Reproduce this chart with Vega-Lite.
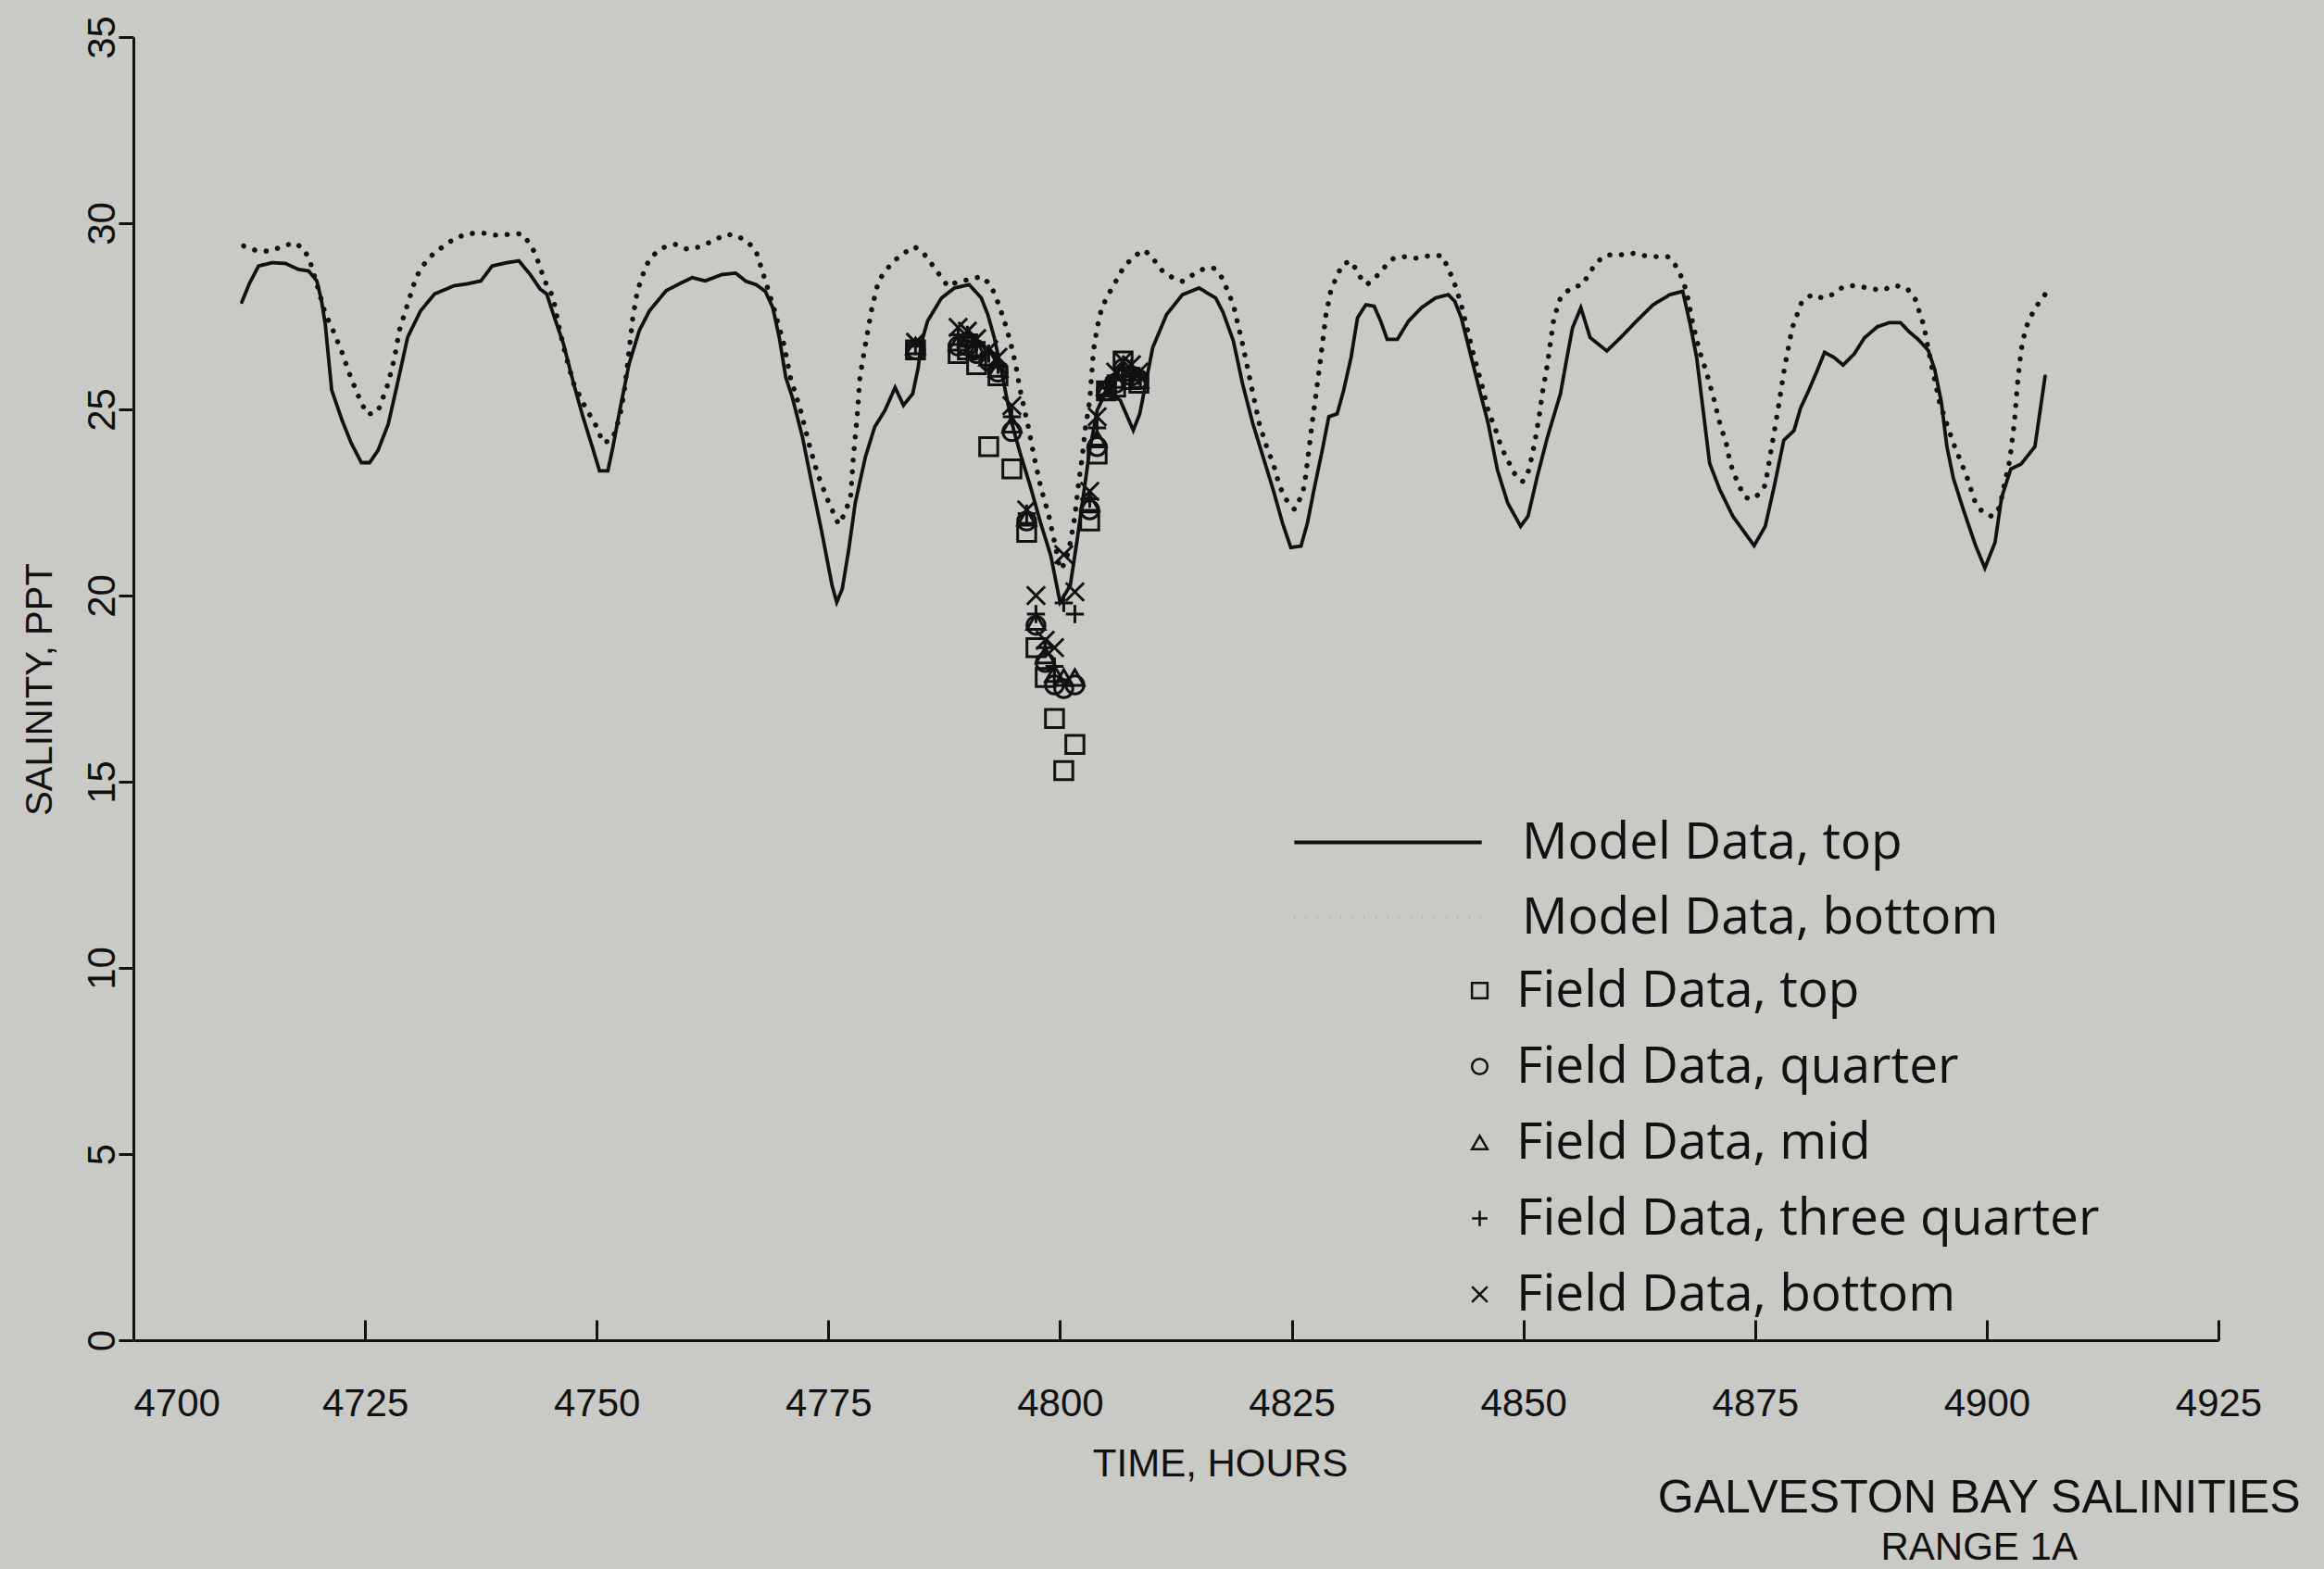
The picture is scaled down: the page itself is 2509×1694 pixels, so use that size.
{
  "$schema": "https://vega.github.io/schema/vega-lite/v6.json",
  "width": 2251,
  "height": 1407,
  "autosize": "none",
  "padding": {"left": 144, "top": 40, "right": 114, "bottom": 247},
  "background": "#c9c9c6",
  "config": {"view": {"stroke": null}, "font": "Liberation Sans"},
  "title": {
    "text": "GALVESTON BAY SALINITIES",
    "subtitle": "RANGE 1A",
    "orient": "bottom",
    "anchor": "end",
    "align": "center",
    "dx": -305,
    "offset": -8,
    "font": "Liberation Sans",
    "fontSize": 50,
    "fontWeight": "normal",
    "color": "#111111",
    "subtitleFont": "Liberation Sans",
    "subtitleFontSize": 42,
    "subtitleColor": "#111111",
    "subtitlePadding": 8
  },
  "datasets": {
    "model": [
      {"hour": 4711.7, "salinity": 27.88, "series": "Model Data, top"},
      {"hour": 4712.5, "salinity": 28.37, "series": "Model Data, top"},
      {"hour": 4713.5, "salinity": 28.85, "series": "Model Data, top"},
      {"hour": 4715.0, "salinity": 28.94, "series": "Model Data, top"},
      {"hour": 4716.4, "salinity": 28.92, "series": "Model Data, top"},
      {"hour": 4717.8, "salinity": 28.76, "series": "Model Data, top"},
      {"hour": 4718.9, "salinity": 28.72, "series": "Model Data, top"},
      {"hour": 4719.8, "salinity": 28.45, "series": "Model Data, top"},
      {"hour": 4720.3, "salinity": 27.92, "series": "Model Data, top"},
      {"hour": 4720.7, "salinity": 27.3, "series": "Model Data, top"},
      {"hour": 4721.4, "salinity": 25.52, "series": "Model Data, top"},
      {"hour": 4722.5, "salinity": 24.72, "series": "Model Data, top"},
      {"hour": 4723.5, "salinity": 24.1, "series": "Model Data, top"},
      {"hour": 4724.6, "salinity": 23.57, "series": "Model Data, top"},
      {"hour": 4725.5, "salinity": 23.57, "series": "Model Data, top"},
      {"hour": 4726.4, "salinity": 23.9, "series": "Model Data, top"},
      {"hour": 4727.5, "salinity": 24.6, "series": "Model Data, top"},
      {"hour": 4728.5, "salinity": 25.7, "series": "Model Data, top"},
      {"hour": 4729.6, "salinity": 26.94, "series": "Model Data, top"},
      {"hour": 4731.0, "salinity": 27.65, "series": "Model Data, top"},
      {"hour": 4732.5, "salinity": 28.1, "series": "Model Data, top"},
      {"hour": 4734.6, "salinity": 28.32, "series": "Model Data, top"},
      {"hour": 4736.0, "salinity": 28.37, "series": "Model Data, top"},
      {"hour": 4737.5, "salinity": 28.45, "series": "Model Data, top"},
      {"hour": 4738.2, "salinity": 28.68, "series": "Model Data, top"},
      {"hour": 4738.7, "salinity": 28.85, "series": "Model Data, top"},
      {"hour": 4740.3, "salinity": 28.94, "series": "Model Data, top"},
      {"hour": 4741.6, "salinity": 28.99, "series": "Model Data, top"},
      {"hour": 4742.8, "salinity": 28.63, "series": "Model Data, top"},
      {"hour": 4743.9, "salinity": 28.23, "series": "Model Data, top"},
      {"hour": 4744.6, "salinity": 28.1, "series": "Model Data, top"},
      {"hour": 4745.3, "salinity": 27.57, "series": "Model Data, top"},
      {"hour": 4746.4, "salinity": 26.77, "series": "Model Data, top"},
      {"hour": 4747.5, "salinity": 25.7, "series": "Model Data, top"},
      {"hour": 4748.5, "salinity": 24.81, "series": "Model Data, top"},
      {"hour": 4749.6, "salinity": 23.93, "series": "Model Data, top"},
      {"hour": 4750.3, "salinity": 23.35, "series": "Model Data, top"},
      {"hour": 4751.2, "salinity": 23.35, "series": "Model Data, top"},
      {"hour": 4751.7, "salinity": 23.93, "series": "Model Data, top"},
      {"hour": 4752.5, "salinity": 24.99, "series": "Model Data, top"},
      {"hour": 4753.5, "salinity": 26.23, "series": "Model Data, top"},
      {"hour": 4754.6, "salinity": 27.12, "series": "Model Data, top"},
      {"hour": 4755.7, "salinity": 27.65, "series": "Model Data, top"},
      {"hour": 4757.5, "salinity": 28.19, "series": "Model Data, top"},
      {"hour": 4758.9, "salinity": 28.37, "series": "Model Data, top"},
      {"hour": 4760.3, "salinity": 28.54, "series": "Model Data, top"},
      {"hour": 4761.7, "salinity": 28.45, "series": "Model Data, top"},
      {"hour": 4763.5, "salinity": 28.62, "series": "Model Data, top"},
      {"hour": 4765.0, "salinity": 28.66, "series": "Model Data, top"},
      {"hour": 4766.1, "salinity": 28.44, "series": "Model Data, top"},
      {"hour": 4767.2, "salinity": 28.35, "series": "Model Data, top"},
      {"hour": 4768.2, "salinity": 28.17, "series": "Model Data, top"},
      {"hour": 4769.0, "salinity": 27.73, "series": "Model Data, top"},
      {"hour": 4769.7, "salinity": 26.93, "series": "Model Data, top"},
      {"hour": 4770.4, "salinity": 25.86, "series": "Model Data, top"},
      {"hour": 4771.1, "salinity": 25.33, "series": "Model Data, top"},
      {"hour": 4772.2, "salinity": 24.26, "series": "Model Data, top"},
      {"hour": 4773.2, "salinity": 23.02, "series": "Model Data, top"},
      {"hour": 4774.3, "salinity": 21.69, "series": "Model Data, top"},
      {"hour": 4775.4, "salinity": 20.27, "series": "Model Data, top"},
      {"hour": 4775.9, "salinity": 19.82, "series": "Model Data, top"},
      {"hour": 4776.5, "salinity": 20.18, "series": "Model Data, top"},
      {"hour": 4777.2, "salinity": 21.24, "series": "Model Data, top"},
      {"hour": 4777.9, "salinity": 22.49, "series": "Model Data, top"},
      {"hour": 4779.0, "salinity": 23.73, "series": "Model Data, top"},
      {"hour": 4780.0, "salinity": 24.53, "series": "Model Data, top"},
      {"hour": 4781.1, "salinity": 24.97, "series": "Model Data, top"},
      {"hour": 4782.2, "salinity": 25.59, "series": "Model Data, top"},
      {"hour": 4783.1, "salinity": 25.11, "series": "Model Data, top"},
      {"hour": 4784.1, "salinity": 25.42, "series": "Model Data, top"},
      {"hour": 4784.7, "salinity": 26.13, "series": "Model Data, top"},
      {"hour": 4785.0, "salinity": 26.75, "series": "Model Data, top"},
      {"hour": 4785.7, "salinity": 27.37, "series": "Model Data, top"},
      {"hour": 4787.2, "salinity": 27.99, "series": "Model Data, top"},
      {"hour": 4788.6, "salinity": 28.26, "series": "Model Data, top"},
      {"hour": 4790.2, "salinity": 28.35, "series": "Model Data, top"},
      {"hour": 4791.5, "salinity": 27.99, "series": "Model Data, top"},
      {"hour": 4792.2, "salinity": 27.55, "series": "Model Data, top"},
      {"hour": 4792.9, "salinity": 26.93, "series": "Model Data, top"},
      {"hour": 4793.6, "salinity": 26.13, "series": "Model Data, top"},
      {"hour": 4794.3, "salinity": 25.24, "series": "Model Data, top"},
      {"hour": 4795.0, "salinity": 24.44, "series": "Model Data, top"},
      {"hour": 4795.7, "salinity": 23.82, "series": "Model Data, top"},
      {"hour": 4796.8, "salinity": 22.93, "series": "Model Data, top"},
      {"hour": 4797.9, "salinity": 21.95, "series": "Model Data, top"},
      {"hour": 4799.0, "salinity": 21.07, "series": "Model Data, top"},
      {"hour": 4800.0, "salinity": 19.82, "series": "Model Data, top"},
      {"hour": 4801.1, "salinity": 20.27, "series": "Model Data, top"},
      {"hour": 4801.8, "salinity": 21.42, "series": "Model Data, top"},
      {"hour": 4802.5, "salinity": 22.66, "series": "Model Data, top"},
      {"hour": 4803.2, "salinity": 23.91, "series": "Model Data, top"},
      {"hour": 4804.0, "salinity": 24.97, "series": "Model Data, top"},
      {"hour": 4805.0, "salinity": 25.51, "series": "Model Data, top"},
      {"hour": 4806.5, "salinity": 25.24, "series": "Model Data, top"},
      {"hour": 4807.9, "salinity": 24.44, "series": "Model Data, top"},
      {"hour": 4808.6, "salinity": 24.88, "series": "Model Data, top"},
      {"hour": 4809.3, "salinity": 25.77, "series": "Model Data, top"},
      {"hour": 4810.0, "salinity": 26.66, "series": "Model Data, top"},
      {"hour": 4811.5, "salinity": 27.55, "series": "Model Data, top"},
      {"hour": 4813.2, "salinity": 28.08, "series": "Model Data, top"},
      {"hour": 4815.0, "salinity": 28.26, "series": "Model Data, top"},
      {"hour": 4816.8, "salinity": 27.99, "series": "Model Data, top"},
      {"hour": 4817.6, "salinity": 27.6, "series": "Model Data, top"},
      {"hour": 4818.7, "salinity": 26.84, "series": "Model Data, top"},
      {"hour": 4819.7, "salinity": 25.68, "series": "Model Data, top"},
      {"hour": 4820.8, "salinity": 24.62, "series": "Model Data, top"},
      {"hour": 4821.9, "salinity": 23.73, "series": "Model Data, top"},
      {"hour": 4823.0, "salinity": 22.84, "series": "Model Data, top"},
      {"hour": 4824.0, "salinity": 21.95, "series": "Model Data, top"},
      {"hour": 4824.9, "salinity": 21.29, "series": "Model Data, top"},
      {"hour": 4826.0, "salinity": 21.33, "series": "Model Data, top"},
      {"hour": 4826.7, "salinity": 21.95, "series": "Model Data, top"},
      {"hour": 4827.4, "salinity": 22.84, "series": "Model Data, top"},
      {"hour": 4828.3, "salinity": 23.91, "series": "Model Data, top"},
      {"hour": 4829.0, "salinity": 24.8, "series": "Model Data, top"},
      {"hour": 4829.9, "salinity": 24.88, "series": "Model Data, top"},
      {"hour": 4830.6, "salinity": 25.51, "series": "Model Data, top"},
      {"hour": 4831.4, "salinity": 26.39, "series": "Model Data, top"},
      {"hour": 4832.1, "salinity": 27.46, "series": "Model Data, top"},
      {"hour": 4833.0, "salinity": 27.81, "series": "Model Data, top"},
      {"hour": 4833.9, "salinity": 27.77, "series": "Model Data, top"},
      {"hour": 4834.6, "salinity": 27.37, "series": "Model Data, top"},
      {"hour": 4835.3, "salinity": 26.88, "series": "Model Data, top"},
      {"hour": 4836.4, "salinity": 26.88, "series": "Model Data, top"},
      {"hour": 4837.6, "salinity": 27.37, "series": "Model Data, top"},
      {"hour": 4839.0, "salinity": 27.73, "series": "Model Data, top"},
      {"hour": 4840.5, "salinity": 27.99, "series": "Model Data, top"},
      {"hour": 4841.9, "salinity": 28.08, "series": "Model Data, top"},
      {"hour": 4842.6, "salinity": 27.9, "series": "Model Data, top"},
      {"hour": 4843.3, "salinity": 27.46, "series": "Model Data, top"},
      {"hour": 4844.2, "salinity": 26.57, "series": "Model Data, top"},
      {"hour": 4845.1, "salinity": 25.68, "series": "Model Data, top"},
      {"hour": 4846.2, "salinity": 24.62, "series": "Model Data, top"},
      {"hour": 4847.2, "salinity": 23.37, "series": "Model Data, top"},
      {"hour": 4848.3, "salinity": 22.49, "series": "Model Data, top"},
      {"hour": 4849.7, "salinity": 21.86, "series": "Model Data, top"},
      {"hour": 4850.5, "salinity": 22.13, "series": "Model Data, top"},
      {"hour": 4851.5, "salinity": 23.2, "series": "Model Data, top"},
      {"hour": 4852.6, "salinity": 24.26, "series": "Model Data, top"},
      {"hour": 4854.0, "salinity": 25.42, "series": "Model Data, top"},
      {"hour": 4854.7, "salinity": 26.39, "series": "Model Data, top"},
      {"hour": 4855.3, "salinity": 27.19, "series": "Model Data, top"},
      {"hour": 4856.2, "salinity": 27.73, "series": "Model Data, top"},
      {"hour": 4857.2, "salinity": 26.93, "series": "Model Data, top"},
      {"hour": 4859.0, "salinity": 26.57, "series": "Model Data, top"},
      {"hour": 4860.5, "salinity": 26.93, "series": "Model Data, top"},
      {"hour": 4862.2, "salinity": 27.37, "series": "Model Data, top"},
      {"hour": 4864.0, "salinity": 27.81, "series": "Model Data, top"},
      {"hour": 4865.8, "salinity": 28.08, "series": "Model Data, top"},
      {"hour": 4867.2, "salinity": 28.17, "series": "Model Data, top"},
      {"hour": 4868.0, "salinity": 27.28, "series": "Model Data, top"},
      {"hour": 4868.7, "salinity": 26.39, "series": "Model Data, top"},
      {"hour": 4869.4, "salinity": 24.97, "series": "Model Data, top"},
      {"hour": 4870.1, "salinity": 23.55, "series": "Model Data, top"},
      {"hour": 4871.2, "salinity": 22.84, "series": "Model Data, top"},
      {"hour": 4872.6, "salinity": 22.13, "series": "Model Data, top"},
      {"hour": 4874.9, "salinity": 21.34, "series": "Model Data, top"},
      {"hour": 4876.1, "salinity": 21.86, "series": "Model Data, top"},
      {"hour": 4877.1, "salinity": 22.97, "series": "Model Data, top"},
      {"hour": 4878.1, "salinity": 24.17, "series": "Model Data, top"},
      {"hour": 4879.2, "salinity": 24.43, "series": "Model Data, top"},
      {"hour": 4879.9, "salinity": 25.03, "series": "Model Data, top"},
      {"hour": 4880.7, "salinity": 25.46, "series": "Model Data, top"},
      {"hour": 4881.6, "salinity": 25.98, "series": "Model Data, top"},
      {"hour": 4882.5, "salinity": 26.53, "series": "Model Data, top"},
      {"hour": 4883.5, "salinity": 26.4, "series": "Model Data, top"},
      {"hour": 4884.5, "salinity": 26.19, "series": "Model Data, top"},
      {"hour": 4885.7, "salinity": 26.49, "series": "Model Data, top"},
      {"hour": 4886.8, "salinity": 26.92, "series": "Model Data, top"},
      {"hour": 4888.2, "salinity": 27.22, "series": "Model Data, top"},
      {"hour": 4889.5, "salinity": 27.33, "series": "Model Data, top"},
      {"hour": 4890.7, "salinity": 27.33, "series": "Model Data, top"},
      {"hour": 4891.6, "salinity": 27.09, "series": "Model Data, top"},
      {"hour": 4892.6, "salinity": 26.88, "series": "Model Data, top"},
      {"hour": 4893.7, "salinity": 26.58, "series": "Model Data, top"},
      {"hour": 4894.4, "salinity": 26.06, "series": "Model Data, top"},
      {"hour": 4895.1, "salinity": 25.2, "series": "Model Data, top"},
      {"hour": 4895.7, "salinity": 24.0, "series": "Model Data, top"},
      {"hour": 4896.4, "salinity": 23.15, "series": "Model Data, top"},
      {"hour": 4897.5, "salinity": 22.29, "series": "Model Data, top"},
      {"hour": 4898.8, "salinity": 21.34, "series": "Model Data, top"},
      {"hour": 4899.8, "salinity": 20.74, "series": "Model Data, top"},
      {"hour": 4900.9, "salinity": 21.43, "series": "Model Data, top"},
      {"hour": 4901.6, "salinity": 22.63, "series": "Model Data, top"},
      {"hour": 4902.6, "salinity": 23.4, "series": "Model Data, top"},
      {"hour": 4903.7, "salinity": 23.53, "series": "Model Data, top"},
      {"hour": 4905.2, "salinity": 24.0, "series": "Model Data, top"},
      {"hour": 4905.7, "salinity": 24.86, "series": "Model Data, top"},
      {"hour": 4906.3, "salinity": 25.89, "series": "Model Data, top"},

      {"hour": 4711.9, "salinity": 29.39, "series": "Model Data, bottom"},
      {"hour": 4713.2, "salinity": 29.27, "series": "Model Data, bottom"},
      {"hour": 4714.6, "salinity": 29.25, "series": "Model Data, bottom"},
      {"hour": 4716.0, "salinity": 29.36, "series": "Model Data, bottom"},
      {"hour": 4717.3, "salinity": 29.48, "series": "Model Data, bottom"},
      {"hour": 4718.4, "salinity": 29.32, "series": "Model Data, bottom"},
      {"hour": 4719.1, "salinity": 28.94, "series": "Model Data, bottom"},
      {"hour": 4720.0, "salinity": 28.19, "series": "Model Data, bottom"},
      {"hour": 4720.7, "salinity": 27.57, "series": "Model Data, bottom"},
      {"hour": 4721.4, "salinity": 27.21, "series": "Model Data, bottom"},
      {"hour": 4722.5, "salinity": 26.54, "series": "Model Data, bottom"},
      {"hour": 4723.5, "salinity": 25.83, "series": "Model Data, bottom"},
      {"hour": 4724.6, "salinity": 25.17, "series": "Model Data, bottom"},
      {"hour": 4725.3, "salinity": 24.86, "series": "Model Data, bottom"},
      {"hour": 4726.4, "salinity": 24.95, "series": "Model Data, bottom"},
      {"hour": 4727.5, "salinity": 25.7, "series": "Model Data, bottom"},
      {"hour": 4728.2, "salinity": 26.41, "series": "Model Data, bottom"},
      {"hour": 4728.7, "salinity": 27.12, "series": "Model Data, bottom"},
      {"hour": 4729.6, "salinity": 27.83, "series": "Model Data, bottom"},
      {"hour": 4730.5, "salinity": 28.54, "series": "Model Data, bottom"},
      {"hour": 4731.2, "salinity": 28.85, "series": "Model Data, bottom"},
      {"hour": 4732.3, "salinity": 29.16, "series": "Model Data, bottom"},
      {"hour": 4733.5, "salinity": 29.39, "series": "Model Data, bottom"},
      {"hour": 4734.8, "salinity": 29.61, "series": "Model Data, bottom"},
      {"hour": 4736.2, "salinity": 29.72, "series": "Model Data, bottom"},
      {"hour": 4737.6, "salinity": 29.74, "series": "Model Data, bottom"},
      {"hour": 4739.1, "salinity": 29.68, "series": "Model Data, bottom"},
      {"hour": 4740.5, "salinity": 29.7, "series": "Model Data, bottom"},
      {"hour": 4741.9, "salinity": 29.72, "series": "Model Data, bottom"},
      {"hour": 4742.8, "salinity": 29.45, "series": "Model Data, bottom"},
      {"hour": 4743.4, "salinity": 29.16, "series": "Model Data, bottom"},
      {"hour": 4744.4, "salinity": 28.45, "series": "Model Data, bottom"},
      {"hour": 4745.3, "salinity": 28.01, "series": "Model Data, bottom"},
      {"hour": 4746.0, "salinity": 27.12, "series": "Model Data, bottom"},
      {"hour": 4746.7, "salinity": 26.41, "series": "Model Data, bottom"},
      {"hour": 4747.5, "salinity": 25.7, "series": "Model Data, bottom"},
      {"hour": 4748.9, "salinity": 24.99, "series": "Model Data, bottom"},
      {"hour": 4749.8, "salinity": 24.63, "series": "Model Data, bottom"},
      {"hour": 4750.7, "salinity": 24.1, "series": "Model Data, bottom"},
      {"hour": 4751.7, "salinity": 24.19, "series": "Model Data, bottom"},
      {"hour": 4752.5, "salinity": 24.81, "series": "Model Data, bottom"},
      {"hour": 4753.0, "salinity": 25.52, "series": "Model Data, bottom"},
      {"hour": 4753.5, "salinity": 26.59, "series": "Model Data, bottom"},
      {"hour": 4753.9, "salinity": 27.48, "series": "Model Data, bottom"},
      {"hour": 4754.4, "salinity": 28.19, "series": "Model Data, bottom"},
      {"hour": 4755.3, "salinity": 28.85, "series": "Model Data, bottom"},
      {"hour": 4756.0, "salinity": 29.12, "series": "Model Data, bottom"},
      {"hour": 4757.1, "salinity": 29.34, "series": "Model Data, bottom"},
      {"hour": 4758.5, "salinity": 29.43, "series": "Model Data, bottom"},
      {"hour": 4759.8, "salinity": 29.3, "series": "Model Data, bottom"},
      {"hour": 4761.0, "salinity": 29.36, "series": "Model Data, bottom"},
      {"hour": 4762.5, "salinity": 29.52, "series": "Model Data, bottom"},
      {"hour": 4763.9, "salinity": 29.7, "series": "Model Data, bottom"},
      {"hour": 4765.0, "salinity": 29.68, "series": "Model Data, bottom"},
      {"hour": 4766.3, "salinity": 29.5, "series": "Model Data, bottom"},
      {"hour": 4767.2, "salinity": 29.24, "series": "Model Data, bottom"},
      {"hour": 4768.1, "salinity": 28.53, "series": "Model Data, bottom"},
      {"hour": 4769.1, "salinity": 27.73, "series": "Model Data, bottom"},
      {"hour": 4770.2, "salinity": 26.75, "series": "Model Data, bottom"},
      {"hour": 4770.9, "salinity": 25.86, "series": "Model Data, bottom"},
      {"hour": 4772.0, "salinity": 24.97, "series": "Model Data, bottom"},
      {"hour": 4772.9, "salinity": 24.08, "series": "Model Data, bottom"},
      {"hour": 4773.8, "salinity": 23.29, "series": "Model Data, bottom"},
      {"hour": 4774.9, "salinity": 22.58, "series": "Model Data, bottom"},
      {"hour": 4776.1, "salinity": 21.91, "series": "Model Data, bottom"},
      {"hour": 4776.8, "salinity": 22.22, "series": "Model Data, bottom"},
      {"hour": 4777.4, "salinity": 22.66, "series": "Model Data, bottom"},
      {"hour": 4777.7, "salinity": 23.73, "series": "Model Data, bottom"},
      {"hour": 4778.1, "salinity": 24.8, "series": "Model Data, bottom"},
      {"hour": 4778.4, "salinity": 25.86, "series": "Model Data, bottom"},
      {"hour": 4779.0, "salinity": 26.75, "series": "Model Data, bottom"},
      {"hour": 4779.7, "salinity": 27.73, "series": "Model Data, bottom"},
      {"hour": 4780.4, "salinity": 28.44, "series": "Model Data, bottom"},
      {"hour": 4781.1, "salinity": 28.7, "series": "Model Data, bottom"},
      {"hour": 4782.0, "salinity": 28.97, "series": "Model Data, bottom"},
      {"hour": 4783.1, "salinity": 29.19, "series": "Model Data, bottom"},
      {"hour": 4784.3, "salinity": 29.37, "series": "Model Data, bottom"},
      {"hour": 4785.4, "salinity": 29.15, "series": "Model Data, bottom"},
      {"hour": 4786.1, "salinity": 28.92, "series": "Model Data, bottom"},
      {"hour": 4787.0, "salinity": 28.61, "series": "Model Data, bottom"},
      {"hour": 4787.9, "salinity": 28.3, "series": "Model Data, bottom"},
      {"hour": 4789.0, "salinity": 28.44, "series": "Model Data, bottom"},
      {"hour": 4790.2, "salinity": 28.48, "series": "Model Data, bottom"},
      {"hour": 4791.5, "salinity": 28.57, "series": "Model Data, bottom"},
      {"hour": 4792.5, "salinity": 28.35, "series": "Model Data, bottom"},
      {"hour": 4793.4, "salinity": 27.81, "series": "Model Data, bottom"},
      {"hour": 4794.1, "salinity": 27.28, "series": "Model Data, bottom"},
      {"hour": 4794.7, "salinity": 26.75, "series": "Model Data, bottom"},
      {"hour": 4795.2, "salinity": 26.22, "series": "Model Data, bottom"},
      {"hour": 4795.7, "salinity": 25.51, "series": "Model Data, bottom"},
      {"hour": 4796.5, "salinity": 24.62, "series": "Model Data, bottom"},
      {"hour": 4797.2, "salinity": 23.73, "series": "Model Data, bottom"},
      {"hour": 4797.9, "salinity": 22.93, "series": "Model Data, bottom"},
      {"hour": 4798.8, "salinity": 22.13, "series": "Model Data, bottom"},
      {"hour": 4799.5, "salinity": 21.33, "series": "Model Data, bottom"},
      {"hour": 4800.0, "salinity": 20.7, "series": "Model Data, bottom"},
      {"hour": 4800.6, "salinity": 20.89, "series": "Model Data, bottom"},
      {"hour": 4801.1, "salinity": 21.42, "series": "Model Data, bottom"},
      {"hour": 4801.6, "salinity": 22.13, "series": "Model Data, bottom"},
      {"hour": 4802.0, "salinity": 23.02, "series": "Model Data, bottom"},
      {"hour": 4802.4, "salinity": 23.73, "series": "Model Data, bottom"},
      {"hour": 4802.7, "salinity": 24.44, "series": "Model Data, bottom"},
      {"hour": 4803.2, "salinity": 25.24, "series": "Model Data, bottom"},
      {"hour": 4803.6, "salinity": 26.57, "series": "Model Data, bottom"},
      {"hour": 4804.0, "salinity": 27.19, "series": "Model Data, bottom"},
      {"hour": 4804.5, "salinity": 27.73, "series": "Model Data, bottom"},
      {"hour": 4805.2, "salinity": 28.08, "series": "Model Data, bottom"},
      {"hour": 4805.9, "salinity": 28.39, "series": "Model Data, bottom"},
      {"hour": 4806.8, "salinity": 28.79, "series": "Model Data, bottom"},
      {"hour": 4807.9, "salinity": 29.1, "series": "Model Data, bottom"},
      {"hour": 4809.1, "salinity": 29.28, "series": "Model Data, bottom"},
      {"hour": 4810.0, "salinity": 29.06, "series": "Model Data, bottom"},
      {"hour": 4811.1, "salinity": 28.7, "series": "Model Data, bottom"},
      {"hour": 4812.2, "salinity": 28.53, "series": "Model Data, bottom"},
      {"hour": 4813.2, "salinity": 28.44, "series": "Model Data, bottom"},
      {"hour": 4814.3, "salinity": 28.61, "series": "Model Data, bottom"},
      {"hour": 4815.6, "salinity": 28.79, "series": "Model Data, bottom"},
      {"hour": 4816.6, "salinity": 28.79, "series": "Model Data, bottom"},
      {"hour": 4817.5, "salinity": 28.53, "series": "Model Data, bottom"},
      {"hour": 4818.1, "salinity": 28.17, "series": "Model Data, bottom"},
      {"hour": 4818.7, "salinity": 27.81, "series": "Model Data, bottom"},
      {"hour": 4819.7, "salinity": 26.75, "series": "Model Data, bottom"},
      {"hour": 4820.6, "salinity": 25.68, "series": "Model Data, bottom"},
      {"hour": 4821.5, "salinity": 24.62, "series": "Model Data, bottom"},
      {"hour": 4822.4, "salinity": 23.91, "series": "Model Data, bottom"},
      {"hour": 4823.0, "salinity": 23.55, "series": "Model Data, bottom"},
      {"hour": 4823.7, "salinity": 22.93, "series": "Model Data, bottom"},
      {"hour": 4824.4, "salinity": 22.58, "series": "Model Data, bottom"},
      {"hour": 4825.3, "salinity": 22.31, "series": "Model Data, bottom"},
      {"hour": 4826.2, "salinity": 22.75, "series": "Model Data, bottom"},
      {"hour": 4826.5, "salinity": 23.2, "series": "Model Data, bottom"},
      {"hour": 4827.2, "salinity": 24.62, "series": "Model Data, bottom"},
      {"hour": 4828.0, "salinity": 26.13, "series": "Model Data, bottom"},
      {"hour": 4828.7, "salinity": 27.55, "series": "Model Data, bottom"},
      {"hour": 4829.2, "salinity": 28.17, "series": "Model Data, bottom"},
      {"hour": 4829.9, "salinity": 28.61, "series": "Model Data, bottom"},
      {"hour": 4830.6, "salinity": 28.92, "series": "Model Data, bottom"},
      {"hour": 4831.5, "salinity": 28.97, "series": "Model Data, bottom"},
      {"hour": 4832.2, "salinity": 28.61, "series": "Model Data, bottom"},
      {"hour": 4833.1, "salinity": 28.35, "series": "Model Data, bottom"},
      {"hour": 4834.0, "salinity": 28.53, "series": "Model Data, bottom"},
      {"hour": 4834.9, "salinity": 28.79, "series": "Model Data, bottom"},
      {"hour": 4836.0, "salinity": 29.06, "series": "Model Data, bottom"},
      {"hour": 4837.2, "salinity": 29.1, "series": "Model Data, bottom"},
      {"hour": 4838.5, "salinity": 29.06, "series": "Model Data, bottom"},
      {"hour": 4839.9, "salinity": 29.13, "series": "Model Data, bottom"},
      {"hour": 4841.2, "salinity": 29.13, "series": "Model Data, bottom"},
      {"hour": 4841.9, "salinity": 28.79, "series": "Model Data, bottom"},
      {"hour": 4842.6, "salinity": 28.35, "series": "Model Data, bottom"},
      {"hour": 4843.3, "salinity": 27.81, "series": "Model Data, bottom"},
      {"hour": 4844.0, "salinity": 27.1, "series": "Model Data, bottom"},
      {"hour": 4844.7, "salinity": 26.39, "series": "Model Data, bottom"},
      {"hour": 4845.5, "salinity": 25.68, "series": "Model Data, bottom"},
      {"hour": 4846.2, "salinity": 24.97, "series": "Model Data, bottom"},
      {"hour": 4846.9, "salinity": 24.53, "series": "Model Data, bottom"},
      {"hour": 4847.6, "salinity": 23.99, "series": "Model Data, bottom"},
      {"hour": 4848.3, "salinity": 23.64, "series": "Model Data, bottom"},
      {"hour": 4849.0, "salinity": 23.29, "series": "Model Data, bottom"},
      {"hour": 4849.9, "salinity": 23.06, "series": "Model Data, bottom"},
      {"hour": 4850.6, "salinity": 23.37, "series": "Model Data, bottom"},
      {"hour": 4851.2, "salinity": 24.08, "series": "Model Data, bottom"},
      {"hour": 4851.7, "salinity": 24.8, "series": "Model Data, bottom"},
      {"hour": 4852.1, "salinity": 25.51, "series": "Model Data, bottom"},
      {"hour": 4852.6, "salinity": 26.22, "series": "Model Data, bottom"},
      {"hour": 4853.0, "salinity": 26.93, "series": "Model Data, bottom"},
      {"hour": 4853.3, "salinity": 27.46, "series": "Model Data, bottom"},
      {"hour": 4854.0, "salinity": 27.99, "series": "Model Data, bottom"},
      {"hour": 4855.1, "salinity": 28.26, "series": "Model Data, bottom"},
      {"hour": 4856.4, "salinity": 28.35, "series": "Model Data, bottom"},
      {"hour": 4857.1, "salinity": 28.66, "series": "Model Data, bottom"},
      {"hour": 4858.0, "salinity": 28.97, "series": "Model Data, bottom"},
      {"hour": 4859.0, "salinity": 29.15, "series": "Model Data, bottom"},
      {"hour": 4860.5, "salinity": 29.15, "series": "Model Data, bottom"},
      {"hour": 4861.9, "salinity": 29.19, "series": "Model Data, bottom"},
      {"hour": 4863.0, "salinity": 29.13, "series": "Model Data, bottom"},
      {"hour": 4864.4, "salinity": 29.1, "series": "Model Data, bottom"},
      {"hour": 4865.6, "salinity": 29.1, "series": "Model Data, bottom"},
      {"hour": 4866.5, "salinity": 28.84, "series": "Model Data, bottom"},
      {"hour": 4867.1, "salinity": 28.53, "series": "Model Data, bottom"},
      {"hour": 4867.6, "salinity": 28.17, "series": "Model Data, bottom"},
      {"hour": 4868.3, "salinity": 27.28, "series": "Model Data, bottom"},
      {"hour": 4869.0, "salinity": 26.57, "series": "Model Data, bottom"},
      {"hour": 4869.7, "salinity": 26.04, "series": "Model Data, bottom"},
      {"hour": 4870.5, "salinity": 25.33, "series": "Model Data, bottom"},
      {"hour": 4871.2, "salinity": 24.62, "series": "Model Data, bottom"},
      {"hour": 4871.9, "salinity": 24.08, "series": "Model Data, bottom"},
      {"hour": 4872.3, "salinity": 23.57, "series": "Model Data, bottom"},
      {"hour": 4873.2, "salinity": 22.97, "series": "Model Data, bottom"},
      {"hour": 4874.0, "salinity": 22.63, "series": "Model Data, bottom"},
      {"hour": 4874.7, "salinity": 22.59, "series": "Model Data, bottom"},
      {"hour": 4875.4, "salinity": 22.72, "series": "Model Data, bottom"},
      {"hour": 4876.1, "salinity": 22.97, "series": "Model Data, bottom"},
      {"hour": 4876.8, "salinity": 24.0, "series": "Model Data, bottom"},
      {"hour": 4877.5, "salinity": 25.03, "series": "Model Data, bottom"},
      {"hour": 4878.2, "salinity": 26.15, "series": "Model Data, bottom"},
      {"hour": 4879.0, "salinity": 27.18, "series": "Model Data, bottom"},
      {"hour": 4880.0, "salinity": 27.86, "series": "Model Data, bottom"},
      {"hour": 4881.1, "salinity": 28.08, "series": "Model Data, bottom"},
      {"hour": 4882.3, "salinity": 27.99, "series": "Model Data, bottom"},
      {"hour": 4883.3, "salinity": 28.08, "series": "Model Data, bottom"},
      {"hour": 4884.5, "salinity": 28.29, "series": "Model Data, bottom"},
      {"hour": 4885.9, "salinity": 28.33, "series": "Model Data, bottom"},
      {"hour": 4887.3, "salinity": 28.25, "series": "Model Data, bottom"},
      {"hour": 4888.7, "salinity": 28.2, "series": "Model Data, bottom"},
      {"hour": 4890.1, "salinity": 28.33, "series": "Model Data, bottom"},
      {"hour": 4891.4, "salinity": 28.25, "series": "Model Data, bottom"},
      {"hour": 4892.3, "salinity": 27.95, "series": "Model Data, bottom"},
      {"hour": 4893.2, "salinity": 27.26, "series": "Model Data, bottom"},
      {"hour": 4894.0, "salinity": 26.23, "series": "Model Data, bottom"},
      {"hour": 4894.9, "salinity": 25.2, "series": "Model Data, bottom"},
      {"hour": 4895.7, "salinity": 24.6, "series": "Model Data, bottom"},
      {"hour": 4896.4, "salinity": 24.09, "series": "Model Data, bottom"},
      {"hour": 4897.1, "salinity": 23.66, "series": "Model Data, bottom"},
      {"hour": 4897.8, "salinity": 23.23, "series": "Model Data, bottom"},
      {"hour": 4898.7, "salinity": 22.55, "series": "Model Data, bottom"},
      {"hour": 4899.5, "salinity": 22.25, "series": "Model Data, bottom"},
      {"hour": 4900.6, "salinity": 22.12, "series": "Model Data, bottom"},
      {"hour": 4901.4, "salinity": 22.37, "series": "Model Data, bottom"},
      {"hour": 4901.9, "salinity": 22.97, "series": "Model Data, bottom"},
      {"hour": 4902.5, "salinity": 23.66, "series": "Model Data, bottom"},
      {"hour": 4903.0, "salinity": 24.69, "series": "Model Data, bottom"},
      {"hour": 4903.3, "salinity": 25.63, "series": "Model Data, bottom"},
      {"hour": 4903.7, "salinity": 26.58, "series": "Model Data, bottom"},
      {"hour": 4904.2, "salinity": 27.18, "series": "Model Data, bottom"},
      {"hour": 4904.9, "salinity": 27.56, "series": "Model Data, bottom"},
      {"hour": 4905.6, "salinity": 27.86, "series": "Model Data, bottom"},
      {"hour": 4906.4, "salinity": 28.12, "series": "Model Data, bottom"}
    ],
    "field": [
      {"hour": 4784.4, "salinity": 26.6, "depth": "Field Data, top"},
      {"hour": 4784.4, "salinity": 26.6, "depth": "Field Data, quarter"},
      {"hour": 4784.4, "salinity": 26.7, "depth": "Field Data, mid"},
      {"hour": 4784.4, "salinity": 26.7, "depth": "Field Data, three quarter"},
      {"hour": 4784.4, "salinity": 26.8, "depth": "Field Data, bottom"},
      {"hour": 4789.0, "salinity": 26.5, "depth": "Field Data, top"},
      {"hour": 4789.0, "salinity": 26.7, "depth": "Field Data, quarter"},
      {"hour": 4789.0, "salinity": 26.8, "depth": "Field Data, mid"},
      {"hour": 4789.0, "salinity": 27.0, "depth": "Field Data, three quarter"},
      {"hour": 4789.0, "salinity": 27.2, "depth": "Field Data, bottom"},
      {"hour": 4790.0, "salinity": 26.6, "depth": "Field Data, top"},
      {"hour": 4790.0, "salinity": 26.7, "depth": "Field Data, quarter"},
      {"hour": 4790.0, "salinity": 26.9, "depth": "Field Data, mid"},
      {"hour": 4790.0, "salinity": 27.0, "depth": "Field Data, three quarter"},
      {"hour": 4790.0, "salinity": 27.1, "depth": "Field Data, bottom"},
      {"hour": 4791.0, "salinity": 26.2, "depth": "Field Data, top"},
      {"hour": 4791.0, "salinity": 26.5, "depth": "Field Data, quarter"},
      {"hour": 4791.0, "salinity": 26.6, "depth": "Field Data, mid"},
      {"hour": 4791.0, "salinity": 26.8, "depth": "Field Data, three quarter"},
      {"hour": 4791.0, "salinity": 26.9, "depth": "Field Data, bottom"},
      {"hour": 4792.3, "salinity": 24.0, "depth": "Field Data, top"},
      {"hour": 4792.3, "salinity": 26.3, "depth": "Field Data, quarter"},
      {"hour": 4792.3, "salinity": 26.4, "depth": "Field Data, mid"},
      {"hour": 4792.3, "salinity": 26.5, "depth": "Field Data, three quarter"},
      {"hour": 4792.3, "salinity": 26.6, "depth": "Field Data, bottom"},
      {"hour": 4793.3, "salinity": 25.9, "depth": "Field Data, top"},
      {"hour": 4793.3, "salinity": 26.0, "depth": "Field Data, quarter"},
      {"hour": 4793.3, "salinity": 26.1, "depth": "Field Data, mid"},
      {"hour": 4793.3, "salinity": 26.2, "depth": "Field Data, three quarter"},
      {"hour": 4793.3, "salinity": 26.4, "depth": "Field Data, bottom"},
      {"hour": 4794.8, "salinity": 23.4, "depth": "Field Data, top"},
      {"hour": 4794.8, "salinity": 24.4, "depth": "Field Data, quarter"},
      {"hour": 4794.8, "salinity": 24.6, "depth": "Field Data, mid"},
      {"hour": 4794.8, "salinity": 24.8, "depth": "Field Data, three quarter"},
      {"hour": 4794.8, "salinity": 25.1, "depth": "Field Data, bottom"},
      {"hour": 4796.4, "salinity": 21.7, "depth": "Field Data, top"},
      {"hour": 4796.4, "salinity": 22.0, "depth": "Field Data, quarter"},
      {"hour": 4796.4, "salinity": 22.1, "depth": "Field Data, mid"},
      {"hour": 4796.4, "salinity": 22.2, "depth": "Field Data, three quarter"},
      {"hour": 4796.4, "salinity": 22.3, "depth": "Field Data, bottom"},
      {"hour": 4797.4, "salinity": 18.6, "depth": "Field Data, top"},
      {"hour": 4797.4, "salinity": 19.2, "depth": "Field Data, quarter"},
      {"hour": 4797.4, "salinity": 19.3, "depth": "Field Data, mid"},
      {"hour": 4797.4, "salinity": 19.5, "depth": "Field Data, three quarter"},
      {"hour": 4797.4, "salinity": 20.0, "depth": "Field Data, bottom"},
      {"hour": 4798.4, "salinity": 17.8, "depth": "Field Data, top"},
      {"hour": 4798.4, "salinity": 18.2, "depth": "Field Data, quarter"},
      {"hour": 4798.4, "salinity": 18.4, "depth": "Field Data, mid"},
      {"hour": 4798.4, "salinity": 18.6, "depth": "Field Data, three quarter"},
      {"hour": 4798.4, "salinity": 18.8, "depth": "Field Data, bottom"},
      {"hour": 4799.4, "salinity": 16.7, "depth": "Field Data, top"},
      {"hour": 4799.4, "salinity": 17.6, "depth": "Field Data, quarter"},
      {"hour": 4799.4, "salinity": 17.9, "depth": "Field Data, mid"},
      {"hour": 4799.4, "salinity": 18.1, "depth": "Field Data, three quarter"},
      {"hour": 4799.4, "salinity": 18.6, "depth": "Field Data, bottom"},
      {"hour": 4800.4, "salinity": 15.3, "depth": "Field Data, top"},
      {"hour": 4800.4, "salinity": 17.5, "depth": "Field Data, quarter"},
      {"hour": 4800.4, "salinity": 17.8, "depth": "Field Data, mid"},
      {"hour": 4800.4, "salinity": 19.8, "depth": "Field Data, three quarter"},
      {"hour": 4800.4, "salinity": 21.1, "depth": "Field Data, bottom"},
      {"hour": 4801.6, "salinity": 16.0, "depth": "Field Data, top"},
      {"hour": 4801.6, "salinity": 17.6, "depth": "Field Data, quarter"},
      {"hour": 4801.6, "salinity": 17.8, "depth": "Field Data, mid"},
      {"hour": 4801.6, "salinity": 19.5, "depth": "Field Data, three quarter"},
      {"hour": 4801.6, "salinity": 20.1, "depth": "Field Data, bottom"},
      {"hour": 4803.2, "salinity": 22.0, "depth": "Field Data, top"},
      {"hour": 4803.2, "salinity": 22.3, "depth": "Field Data, quarter"},
      {"hour": 4803.2, "salinity": 22.5, "depth": "Field Data, mid"},
      {"hour": 4803.2, "salinity": 22.6, "depth": "Field Data, three quarter"},
      {"hour": 4803.2, "salinity": 22.8, "depth": "Field Data, bottom"},
      {"hour": 4804.0, "salinity": 23.8, "depth": "Field Data, top"},
      {"hour": 4804.0, "salinity": 24.0, "depth": "Field Data, quarter"},
      {"hour": 4804.0, "salinity": 24.2, "depth": "Field Data, mid"},
      {"hour": 4804.0, "salinity": 24.5, "depth": "Field Data, three quarter"},
      {"hour": 4804.0, "salinity": 24.8, "depth": "Field Data, bottom"},
      {"hour": 4805.0, "salinity": 25.5, "depth": "Field Data, top"},
      {"hour": 4805.0, "salinity": 25.5, "depth": "Field Data, quarter"},
      {"hour": 4805.0, "salinity": 25.6, "depth": "Field Data, mid"},
      {"hour": 4805.0, "salinity": 25.6, "depth": "Field Data, three quarter"},
      {"hour": 4805.0, "salinity": 25.5, "depth": "Field Data, bottom"},
      {"hour": 4806.0, "salinity": 25.6, "depth": "Field Data, top"},
      {"hour": 4806.0, "salinity": 25.7, "depth": "Field Data, quarter"},
      {"hour": 4806.0, "salinity": 25.8, "depth": "Field Data, mid"},
      {"hour": 4806.0, "salinity": 25.9, "depth": "Field Data, three quarter"},
      {"hour": 4806.0, "salinity": 26.0, "depth": "Field Data, bottom"},
      {"hour": 4806.8, "salinity": 26.3, "depth": "Field Data, top"},
      {"hour": 4806.8, "salinity": 26.1, "depth": "Field Data, quarter"},
      {"hour": 4806.8, "salinity": 26.0, "depth": "Field Data, mid"},
      {"hour": 4806.8, "salinity": 26.1, "depth": "Field Data, three quarter"},
      {"hour": 4806.8, "salinity": 26.3, "depth": "Field Data, bottom"},
      {"hour": 4807.7, "salinity": 25.8, "depth": "Field Data, top"},
      {"hour": 4807.7, "salinity": 25.9, "depth": "Field Data, quarter"},
      {"hour": 4807.7, "salinity": 26.0, "depth": "Field Data, mid"},
      {"hour": 4807.7, "salinity": 26.1, "depth": "Field Data, three quarter"},
      {"hour": 4807.7, "salinity": 26.2, "depth": "Field Data, bottom"},
      {"hour": 4808.5, "salinity": 25.7, "depth": "Field Data, top"},
      {"hour": 4808.5, "salinity": 25.8, "depth": "Field Data, quarter"},
      {"hour": 4808.5, "salinity": 25.8, "depth": "Field Data, mid"},
      {"hour": 4808.5, "salinity": 25.9, "depth": "Field Data, three quarter"},
      {"hour": 4808.5, "salinity": 26.0, "depth": "Field Data, bottom"}
    ]
  },
  "encoding": {
    "x": {
      "field": "hour",
      "type": "quantitative",
      "scale": {"domain": [4700, 4925], "nice": false, "zero": false},
      "axis": {
        "values": [4700, 4725, 4750, 4775, 4800, 4825, 4850, 4875, 4900, 4925],
        "format": "d",
        "grid": false,
        "domainColor": "#111111",
        "domainWidth": 3,
        "tickColor": "#111111",
        "tickWidth": 3,
        "tickSize": -22,
        "labelFont": "Liberation Sans",
        "labelFontSize": 42,
        "labelColor": "#111111",
        "labelPadding": 70,
        "labelOverlap": false,
        "labelFlush": false,
        "labelAlign": {"condition": {"test": "datum.value == 4700", "value": "left"}, "value": "center"},
        "title": "TIME, HOURS",
        "titleFont": "Liberation Sans",
        "titleFontSize": 42,
        "titleFontWeight": "normal",
        "titleColor": "#111111",
        "titleX": 1173,
        "titleY": 133,
        "titleBaseline": "middle",
        "titleAlign": "center"
      }
    },
    "y": {
      "field": "salinity",
      "type": "quantitative",
      "scale": {"domain": [0, 35], "nice": false},
      "axis": {
        "values": [0, 5, 10, 15, 20, 25, 30, 35],
        "grid": false,
        "domainColor": "#111111",
        "domainWidth": 3,
        "tickColor": "#111111",
        "tickWidth": 3,
        "tickSize": 16,
        "labelAngle": -90,
        "labelFont": "Liberation Sans",
        "labelFontSize": 42,
        "labelColor": "#111111",
        "labelPadding": -4,
        "labelOverlap": false,
        "title": "SALINITY, PPT",
        "titleFont": "Liberation Sans",
        "titleFontSize": 40,
        "titleFontWeight": "normal",
        "titleColor": "#111111",
        "titleX": -101,
        "titleY": 704,
        "titleAngle": -90,
        "titleBaseline": "middle",
        "titleAlign": "center"
      }
    }
  },
  "layer": [
    {
      "data": {"name": "model"},
      "mark": {"type": "line", "color": "#111111", "strokeCap": "round"},
      "encoding": {
        "detail": {"field": "series"},
        "strokeWidth": {
          "field": "series",
          "type": "nominal",
          "scale": {"domain": ["Model Data, top", "Model Data, bottom"], "range": [3.8, 5.5]},
          "legend": null
        },
        "strokeDash": {
          "field": "series",
          "type": "nominal",
          "scale": {"domain": ["Model Data, top", "Model Data, bottom"], "range": [[1, 0], [0.1, 12.5]]},
          "legend": {
            "title": null,
            "orient": "none",
            "legendX": 1327,
            "legendY": 842,
            "padding": 0,
            "symbolType": "M-16,0L16,0",
            "symbolSize": 160,
            "symbolStrokeWidth": 4.5,
            "symbolStrokeColor": "#111111",
            "labelFont": "Open Sans",
            "labelFontSize": 55,
            "labelColor": "#111111",
            "labelOffset": 117,
            "labelLimit": 1000,
            "rowPadding": 25
          }
        }
      }
    },
    {
      "data": {"name": "field"},
      "mark": {"type": "point", "filled": false, "color": "#111111", "strokeWidth": 3, "size": 380, "opacity": 1},
      "encoding": {
        "shape": {
          "field": "depth",
          "type": "nominal",
          "scale": {
            "domain": ["Field Data, top", "Field Data, quarter", "Field Data, mid", "Field Data, three quarter", "Field Data, bottom"],
            "range": ["square", "circle", "triangle-up", "M-1,0L1,0M0,-1L0,1", "M-1,-1L1,1M-1,1L1,-1"]
          },
          "legend": {
            "title": null,
            "orient": "none",
            "legendX": 1426,
            "legendY": 1002,
            "padding": 0,
            "symbolSize": 280,
            "symbolStrokeWidth": 2.5,
            "symbolStrokeColor": "#111111",
            "symbolFillColor": "transparent",
            "labelFont": "Open Sans",
            "labelFontSize": 55,
            "labelColor": "#111111",
            "labelOffset": 12,
            "labelLimit": 1000,
            "rowPadding": 26
          }
        }
      }
    }
  ]
}
